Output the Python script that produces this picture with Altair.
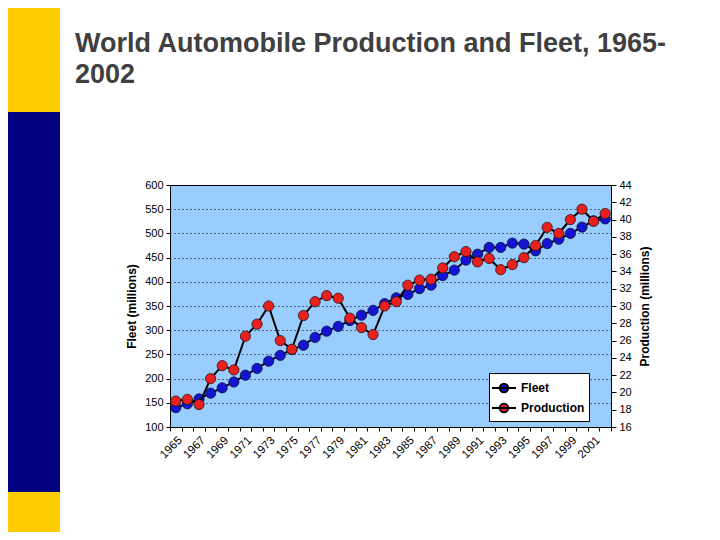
import altair as alt
import pandas as pd

# ---- data ----
years = list(range(1965, 2003))
fleet = [140, 148, 158, 170, 181, 193, 207, 221, 236, 248, 260, 269, 285, 298, 308, 320, 331, 341, 355,
         367, 374, 386, 393, 413, 424, 445, 457, 471, 471, 480, 478, 464, 479, 488, 500, 513, 526, 530]
production = [19.0, 19.2, 18.6, 21.6, 23.1, 22.6, 26.5, 27.9, 30.0, 26.0, 25.0, 28.9, 30.5, 31.2, 30.9, 28.6, 27.5, 26.7, 30.0,
              30.5, 32.4, 33.0, 33.1, 34.4, 35.7, 36.3, 35.1, 35.5, 34.2, 34.8, 35.6, 37.0, 39.1, 38.4, 40.0, 41.2, 39.8, 40.7]
series_names = ["Fleet", "Production"]
series_colors = ["#1414D2", "#E8201E"]
fleet_ticks = list(range(100, 650, 50))
prod_ticks = list(range(16, 46, 2))
title_lines = ["World Automobile Production and Fleet, 1965-", "2002"]
fleet_title = "Fleet (millions)"
prod_title = "Production (millions)"

FONT = "Liberation Sans"

df = pd.DataFrame({"year": years, "fleet": fleet, "production": production})
one = pd.DataFrame({"k": [0]})

color_scale = alt.Scale(domain=series_names, range=series_colors)
legend_path = "M-1.2,0L1.2,0M0.42,0A0.42,0.42,0,1,1,-0.42,0A0.42,0.42,0,1,1,0.42,0Z"
legend = alt.Legend(
    title=None, orient="none", legendX=319, legendY=188,
    fillColor="white", strokeColor="black", padding=4, cornerRadius=0,
    symbolType=legend_path, symbolSize=400, rowPadding=0,
    symbolStrokeColor="black", symbolStrokeWidth=2,
    labelFont=FONT, labelFontSize=12, labelFontWeight="bold", labelColor="black",
    labelOffset=6,
)

x_enc = alt.X(
    "year:O",
    scale=alt.Scale(type="band", paddingInner=0, paddingOuter=0),
    axis=alt.Axis(
        title=None, labelAngle=-45, tickBand="extent",
        labelExpr="datum.value % 2 == 1 ? datum.label : ''",
        labelFont=FONT, labelFontSize=11.5, labelColor="black",
        tickColor="black", tickSize=4, domainColor="black", labelPadding=3,
    ),
)

y_fleet = alt.Y(
    "fleet:Q",
    scale=alt.Scale(domain=[100, 600], nice=False, zero=False),
    axis=alt.Axis(
        title=fleet_title, values=fleet_ticks, grid=True, gridColor="black", gridDash=[1, 3],
        gridOpacity=1, gridWidth=1,
        labelFont=FONT, labelFontSize=11, labelColor="black", labelPadding=3,
        tickColor="black", tickSize=4, domainColor="black",
        titleFont=FONT, titleFontSize=12, titleFontWeight="bold", titleColor="black", titlePadding=6,
    ),
)

y_prod = alt.Y(
    "production:Q",
    scale=alt.Scale(domain=[16, 44], nice=False, zero=False),
    axis=alt.Axis(
        orient="right", title=prod_title, values=prod_ticks, grid=False,
        labelFont=FONT, labelFontSize=11, labelColor="black", labelPadding=3,
        tickColor="black", tickSize=5, domainColor="black",
        titleFont=FONT, titleFontSize=12, titleFontWeight="bold", titleColor="black",
        titlePadding=8, titleAngle=270, titleBaseline="top",
    ),
)

base = alt.Chart(df)

fleet_line = base.mark_line(color="black", strokeWidth=2).encode(x=x_enc, y=y_fleet)
fleet_pts = base.transform_calculate(series="'Fleet'").mark_point(
    filled=True, size=105, stroke="#101030", strokeWidth=0.8, opacity=1
).encode(x=x_enc, y=y_fleet, color=alt.Color("series:N", scale=color_scale, legend=legend))
fleet_layer = alt.layer(fleet_line, fleet_pts)

prod_line = base.mark_line(color="black", strokeWidth=2).encode(x=x_enc, y=y_prod)
prod_pts = base.transform_calculate(series="'Production'").mark_point(
    filled=True, size=105, stroke="#301010", strokeWidth=0.8, opacity=1
).encode(x=x_enc, y=y_prod, color=alt.Color("series:N", scale=color_scale, legend=legend))
prod_layer = alt.layer(prod_line, prod_pts)

# slide decorations (positions relative to the plot origin at page 170,185)
deco = alt.Chart(one)
yellow_top = deco.mark_rect(color="#FFCC00").encode(
    x=alt.value(-170), x2=alt.value(-110), y=alt.value(-185), y2=alt.value(-73))
navy = deco.mark_rect(color="#000080").encode(
    x=alt.value(-170), x2=alt.value(-110), y=alt.value(-73), y2=alt.value(307))
yellow_bot = deco.mark_rect(color="#FFCC00").encode(
    x=alt.value(-170), x2=alt.value(-110), y=alt.value(307), y2=alt.value(360))
t1 = alt.Chart(pd.DataFrame({"t": [title_lines[0]]})).mark_text(
    align="left", baseline="alphabetic", font=FONT, fontSize=27, fontWeight="bold", color="#404040"
).encode(text="t:N", x=alt.value(-95), y=alt.value(-133))
t2 = alt.Chart(pd.DataFrame({"t": [title_lines[1]]})).mark_text(
    align="left", baseline="alphabetic", font=FONT, fontSize=27, fontWeight="bold", color="#404040"
).encode(text="t:N", x=alt.value(-95), y=alt.value(-102))

chart = alt.layer(
    yellow_top, navy, yellow_bot, t1, t2, fleet_layer, prod_layer
).resolve_scale(y="independent").properties(
    width=441, height=242,
    autosize=alt.AutoSizeParams(type="none"),
    padding={"left": 162, "top": 177, "right": 101, "bottom": 105},
    background="white",
).configure_view(fill="#99CCFF", stroke="black", strokeWidth=1)

chart.save("out.html", embed_options={"renderer": "svg", "actions": False})
